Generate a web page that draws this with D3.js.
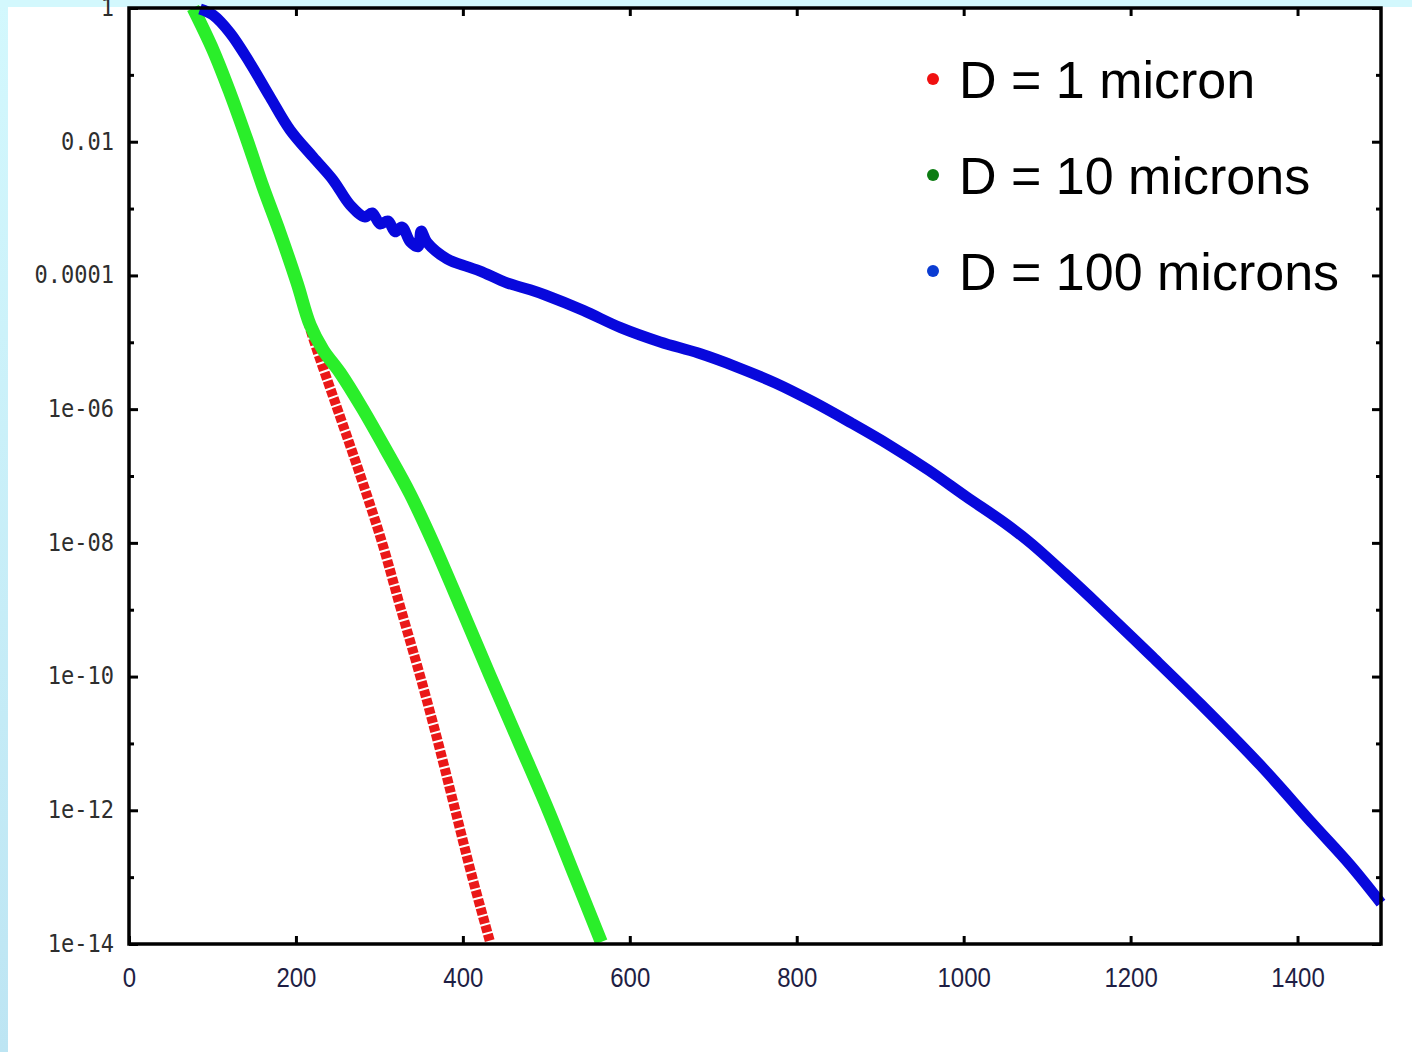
<!DOCTYPE html>
<html>
<head>
<meta charset="utf-8">
<script src="https://cdn.jsdelivr.net/npm/d3@7"></script>
<style>
    body { margin: 0; background: #ffffff; }
    svg { display: block; }
</style>
</head>
<body>
<svg id="chart" width="1412" height="1052"></svg>
<script>
// tick values and labels
const xTicks = [0, 200, 400, 600, 800, 1000, 1200, 1400];
const yTicks = [1, 1e-2, 1e-4, 1e-6, 1e-8, 1e-10, 1e-12, 1e-14];
const yTickLabels = ["1", "0.01", "0.0001", "1e-06", "1e-08", "1e-10", "1e-12", "1e-14"];
const yMinorTicks = [1e-1, 1e-3, 1e-5, 1e-7, 1e-9, 1e-11, 1e-13];

const legendLabels = ["D = 1 micron", "D = 10 microns", "D = 100 microns"];

// D = 1 micron
const d1X = [79.1, 100.7, 121.1, 141.4, 160.6, 181.0, 201.4, 220.5, 249.3, 276.9, 303.3,
    326.0, 348.8, 370.4, 390.8, 411.2, 432.8];
const d1Y = [1, 0.235, 0.0536, 0.0106, 2.1e-3, 4.3e-4, 7.7e-5, 1.16e-5, 1.04e-6, 1.04e-7, 1.0e-8,
    9.9e-10, 1.02e-10, 1.02e-11, 1.01e-12, 1.0e-13, 1.05e-14];

// D = 10 microns
const d10X = [76.7, 100.7, 121.1, 141.4, 160.6, 181.0, 201.4, 217.0, 232.5, 252.9, 279.3, 306.8,
    336.8, 364.4, 399.1, 432.7, 467.5, 502.2, 534.6, 565.8];
const d10Y = [1, 0.235, 0.0536, 0.0106, 2.1e-3, 4.3e-4, 7.7e-5, 1.82e-5, 7.7e-6, 3.5e-6, 1.04e-6, 2.6e-7,
    5.4e-8, 1.0e-8, 9.9e-10, 1.02e-10, 1.02e-11, 1.01e-12, 1.0e-13, 1.07e-14];

// D = 100 microns
const d100X = [85.1, 100.7, 121.1, 145.0, 169.0, 193.0, 220.5, 244.5, 264.9, 282.9, 291.3, 300.8,
    310.4, 318.8, 327.2, 336.8, 346.4, 350.0, 357.2, 381.2, 406.3, 420.7, 453.1, 480.6, 498.6,
    544.2, 589.7, 636.5, 682.0, 727.6, 774.3, 819.9, 865.4, 910.9, 957.7, 1003.2, 1048.8, 1080.0,
    1121.9, 1163.9, 1223.8, 1283.7, 1355.6, 1419.2, 1463.5, 1500.0];
const d100Y = [0.966, 0.785, 0.423, 0.150, 0.0467, 0.0150, 5.9e-3, 2.67e-3, 1.13e-3, 7.5e-4, 8.6e-4, 5.9e-4,
    6.5e-4, 4.5e-4, 5.3e-4, 3.2e-4, 2.7e-4, 4.6e-4, 3.1e-4, 1.76e-4, 1.34e-4, 1.16e-4, 7.7e-5, 6.1e-5, 5.1e-5,
    3.0e-5, 1.64e-5, 1.01e-5, 6.9e-6, 4.3e-6, 2.46e-6, 1.28e-6, 6.2e-7, 2.9e-7, 1.23e-7, 4.9e-8, 2.0e-8, 1.0e-8,
    3.4e-9, 1.1e-9, 2.1e-10, 3.9e-11, 4.7e-12, 6.1e-13, 1.5e-13, 4.1e-14];

const series = [
    { key: "d1", xs: d1X, ys: d1Y, color: "#ea1818", legendColor: "#f01010", width: 10, dash: "7 2" },
    { key: "d10", xs: d10X, ys: d10Y, color: "#2aee2a", legendColor: "#0c7c12", width: 13, dash: null },
    { key: "d100", xs: d100X, ys: d100Y, color: "#0808dc", legendColor: "#0a3cd2", width: 11, dash: null }
];

const svg = d3.select("#chart");
const width = 1412;
const height = 1052;

const plot = { left: 129, right: 1381, top: 8, bottom: 944 };

const xScale = d3.scaleLinear()
    .domain([0, 1500])
    .range([plot.left, plot.right]);

const yScale = d3.scaleLog()
    .domain([1, 1e-14])
    .range([plot.top, plot.bottom]);

// page background: light blue slide edges
const defs = svg.append("defs");
const grad = defs.append("linearGradient")
    .attr("id", "edge")
    .attr("x1", 0).attr("y1", 0).attr("x2", 0).attr("y2", 1);
grad.append("stop").attr("offset", 0).attr("stop-color", "#d3f8fd");
grad.append("stop").attr("offset", 1).attr("stop-color", "#bde5f3");

svg.append("rect")
    .attr("width", width).attr("height", height)
    .attr("fill", "#ffffff");
svg.append("rect")
    .attr("width", 8).attr("height", height)
    .attr("fill", "url(#edge)");
svg.append("rect")
    .attr("width", width).attr("height", 7)
    .attr("fill", "#d3f8fd");

// curves
const line = d3.line()
    .x(d => xScale(d[0]))
    .y(d => yScale(d[1]))
    .curve(d3.curveCatmullRom.alpha(0.5));

series.forEach(s => {
    const pts = s.xs.map((x, i) => [x, s.ys[i]]);
    const path = svg.append("path")
        .datum(pts)
        .attr("class", `curve-${s.key}`)
        .attr("fill", "none")
        .attr("stroke", s.color)
        .attr("stroke-width", s.width)
        .attr("stroke-linejoin", "round")
        .attr("d", line);
    if (s.dash) path.attr("stroke-dasharray", s.dash);
});

// axes
const styleAxis = (g) => {
    g.selectAll(".domain").remove();
    g.selectAll(".tick line")
        .attr("stroke", "#000")
        .attr("stroke-width", 3);
};

const yAxisG = svg.append("g")
    .attr("transform", `translate(${plot.left},0)`)
    .call(d3.axisLeft(yScale)
        .tickValues(yTicks)
        .tickSize(-9)
        .tickPadding(15)
        .tickFormat((d, i) => yTickLabels[i]))
    .call(styleAxis);
yAxisG.selectAll("text")
    .attr("fill", "#2e2e2e")
    .style("font-family", "'DejaVu Sans Mono', monospace")
    .style("font-size", "22px")
    .attr("transform", "scale(1,1.12)")
    .attr("dy", "0.3em");

svg.append("g")
    .attr("transform", `translate(${plot.left},0)`)
    .call(d3.axisLeft(yScale).tickValues(yMinorTicks).tickSize(-5).tickFormat(""))
    .call(styleAxis);

svg.append("g")
    .attr("transform", `translate(${plot.right},0)`)
    .call(d3.axisRight(yScale).tickValues(yTicks).tickSize(-9).tickFormat(""))
    .call(styleAxis);

svg.append("g")
    .attr("transform", `translate(${plot.right},0)`)
    .call(d3.axisRight(yScale).tickValues(yMinorTicks).tickSize(-5).tickFormat(""))
    .call(styleAxis);

const xAxisG = svg.append("g")
    .attr("transform", `translate(0,${plot.bottom})`)
    .call(d3.axisBottom(xScale)
        .tickValues(xTicks)
        .tickSize(-8)
        .tickFormat(d3.format("d")))
    .call(styleAxis);
xAxisG.selectAll("text")
    .attr("fill", "#1e1e44")
    .attr("y", 0)
    .attr("dy", 0)
    .attr("transform", "translate(0,43) scale(1,1.15)")
    .style("font-family", "'Liberation Sans', Arial, sans-serif")
    .style("font-size", "24px");

svg.append("g")
    .attr("transform", `translate(0,${plot.top})`)
    .call(d3.axisTop(xScale).tickValues(xTicks.slice(1)).tickSize(-8).tickFormat(""))
    .call(styleAxis);

// frame
svg.append("rect")
    .attr("x", plot.left)
    .attr("y", plot.top)
    .attr("width", plot.right - plot.left)
    .attr("height", plot.bottom - plot.top)
    .attr("fill", "none")
    .attr("stroke", "#000")
    .attr("stroke-width", 3.5);

// legend
const legend = svg.append("g")
    .attr("transform", "translate(933,79)");

const legendItems = legend.selectAll("g")
    .data(series)
    .enter()
    .append("g")
    .attr("transform", (d, i) => `translate(0,${i * 96})`);

legendItems.append("circle")
    .attr("r", 6)
    .attr("fill", d => d.legendColor);

legendItems.append("text")
    .attr("x", 26)
    .attr("y", 19)
    .attr("fill", "#000")
    .style("font-family", "'Liberation Sans', Arial, sans-serif")
    .style("font-size", "52px")
    .text((d, i) => legendLabels[i]);
</script>
</body>
</html>
